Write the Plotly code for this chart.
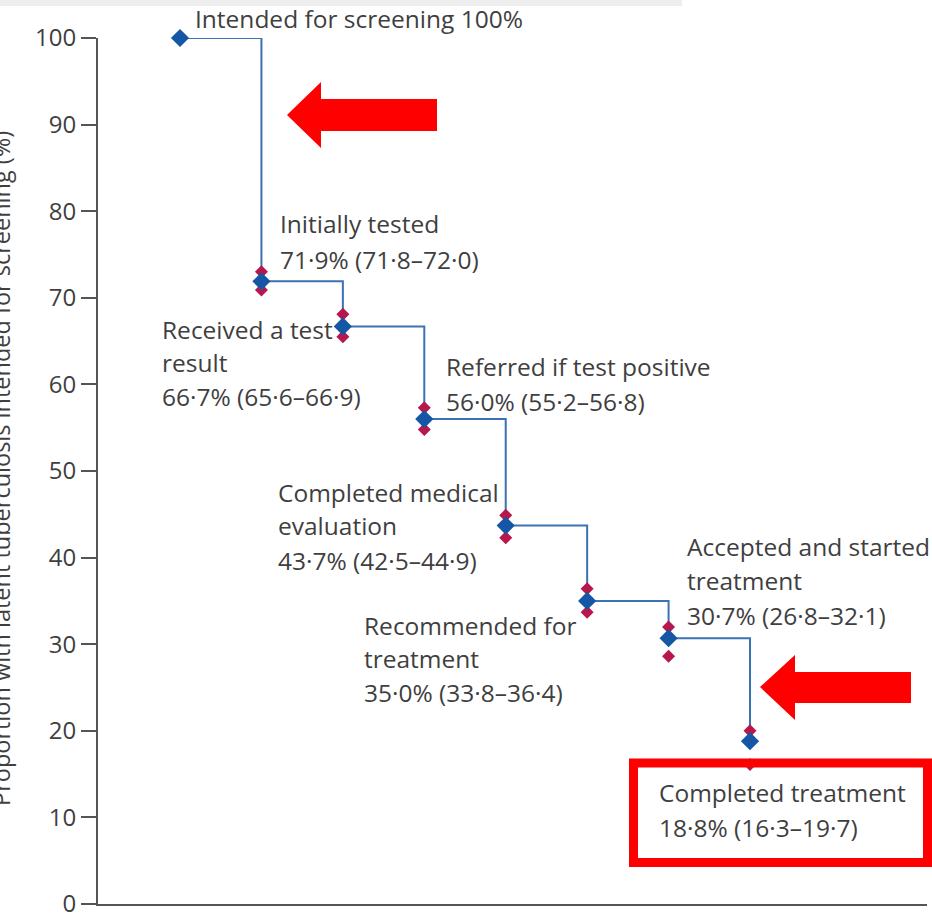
import plotly.graph_objects as go

# ---------------- data ----------------
stages = ["Intended for screening", "Initially tested", "Received a test result",
          "Referred if test positive", "Completed medical evaluation",
          "Recommended for treatment", "Accepted and started treatment",
          "Completed treatment"]
values = [100.0, 71.9, 66.7, 56.0, 43.7, 35.0, 30.7, 18.8]
# interval markers as drawn in the figure
ci_low_drawn = [None, 70.9, 65.5, 54.8, 42.3, 33.7, 28.6, 16.1]
ci_high_drawn = [None, 73.0, 68.1, 57.3, 44.9, 36.4, 32.0, 20.0]
label_lines = [
    ["Intended for screening 100%"],
    ["Initially tested", "71·9% (71·8–72·0)"],
    ["Received a test", "result", "66·7% (65·6–66·9)"],
    ["Referred if test positive", "56·0% (55·2–56·8)"],
    ["Completed medical", "evaluation", "43·7% (42·5–44·9)"],
    ["Recommended for", "treatment", "35·0% (33·8–36·4)"],
    ["Accepted and started", "treatment", "30·7% (26·8–32·1)"],
    ["Completed treatment", "18·8% (16·3–19·7)"],
]
y_ticks = [0, 10, 20, 30, 40, 50, 60, 70, 80, 90, 100]
y_title = "Proportion with latent tuberculosis intended for screening (%)"

# ---------------- layout helpers ----------------
W, H = 932, 914
PL, PR, PT, PB = 98, 927, 38, 904  # plot area in pixels


def px(x):
    return (x - PL) / (PR - PL)


def py(y):
    return (PB - y) / (PB - PT)


FONT = "Open Sans"
TXT = "#3f3f3f"
xs = list(range(len(stages)))

fig = go.Figure()

# step line
fig.add_trace(go.Scatter(x=xs, y=values, mode="lines", line=dict(shape="hv", color="#3b72b6", width=2),
                         hoverinfo="skip", showlegend=False, cliponaxis=False))
# interval markers
fig.add_trace(go.Scatter(x=xs, y=ci_low_drawn, mode="markers",
                         marker=dict(symbol="diamond", size=10, color="#b8174c"),
                         showlegend=False, cliponaxis=False))
fig.add_trace(go.Scatter(x=xs, y=ci_high_drawn, mode="markers",
                         marker=dict(symbol="diamond", size=10, color="#b8174c"),
                         showlegend=False, cliponaxis=False))
# point estimates
fig.add_trace(go.Scatter(x=xs, y=values, mode="markers", text=stages,
                         marker=dict(symbol="diamond", size=14, color="#1557a5"),
                         showlegend=False, cliponaxis=False))

# label placement (pixel positions of each line: left x, line centre ys)
label_pos = [
    (193, [18]),
    (278, [223, 259]),
    (160, [329, 362, 396]),
    (444, [366, 401]),
    (276, [492, 525, 560]),
    (362, [625, 658, 692]),
    (685, [546, 580, 615]),
    (657, [792, 827]),
]
annotations = []
for lines, (lx, lys) in zip(label_lines, label_pos):
    for t, ly in zip(lines, lys):
        annotations.append(dict(xref="paper", yref="paper", x=px(lx), y=py(ly), text=t,
                                showarrow=False, xanchor="left", yanchor="middle",
                                font=dict(family=FONT, size=24.5, color=TXT)))

# y axis title (partially cut at the left edge, as in the reference)
annotations.append(dict(xref="paper", yref="paper", x=px(1), y=py(469), text=y_title,
                        textangle=-90, showarrow=False, xanchor="center", yanchor="middle",
                        font=dict(family=FONT, size=23.5, color=TXT)))


def arrow_path(tip_x, tip_y, head_x, head_top, head_bot, shaft_top, shaft_bot, end_x):
    pts = [(tip_x, tip_y), (head_x, head_top), (head_x, shaft_top), (end_x, shaft_top),
           (end_x, shaft_bot), (head_x, shaft_bot), (head_x, head_bot)]
    return "M " + " L ".join(f"{px(a):.5f},{py(b):.5f}" for a, b in pts) + " Z"


shapes = [
    dict(type="rect", xref="paper", yref="paper", x0=px(0), x1=px(682), y0=py(0), y1=py(6),
         fillcolor="#eeeeee", line=dict(width=0), layer="below"),
    dict(type="path", xref="paper", yref="paper",
         path=arrow_path(287, 115, 321, 82, 148, 99, 131, 437),
         fillcolor="#ff0000", line=dict(width=0)),
    dict(type="path", xref="paper", yref="paper",
         path=arrow_path(760, 687, 795, 655, 720, 672, 703, 911),
         fillcolor="#ff0000", line=dict(width=0)),
    dict(type="rect", xref="paper", yref="paper", x0=px(633.5), x1=px(927.5), y0=py(763), y1=py(862.5),
         line=dict(color="#ff0000", width=9), fillcolor="rgba(0,0,0,0)"),
]

x_left = -82 / 81.43
x_right = (927 - 180) / 81.43

fig.update_layout(
    width=W, height=H,
    margin=dict(l=PL, r=W - PR, t=PT, b=H - PB, pad=0, autoexpand=False),
    paper_bgcolor="white", plot_bgcolor="white",
    xaxis=dict(range=[x_left, x_right], showgrid=False, zeroline=False, showticklabels=False,
               ticks="", showline=True, linecolor="#555555", linewidth=2, fixedrange=True,
               automargin=False),
    yaxis=dict(range=[0, 100], tickvals=y_ticks, showgrid=False, zeroline=False,
               showline=True, linecolor="#555555", linewidth=2,
               ticks="outside", ticklen=15, tickwidth=2, tickcolor="#555555",
               ticklabeloverflow="allow", automargin=False,
               tickfont=dict(family=FONT, size=24, color=TXT), fixedrange=True),
    annotations=annotations,
    shapes=shapes,
    showlegend=False,
)

fig.write_html("out.html", config={"displayModeBar": False},
               post_script="document.body.style.margin='0';document.body.style.overflow='hidden';")
